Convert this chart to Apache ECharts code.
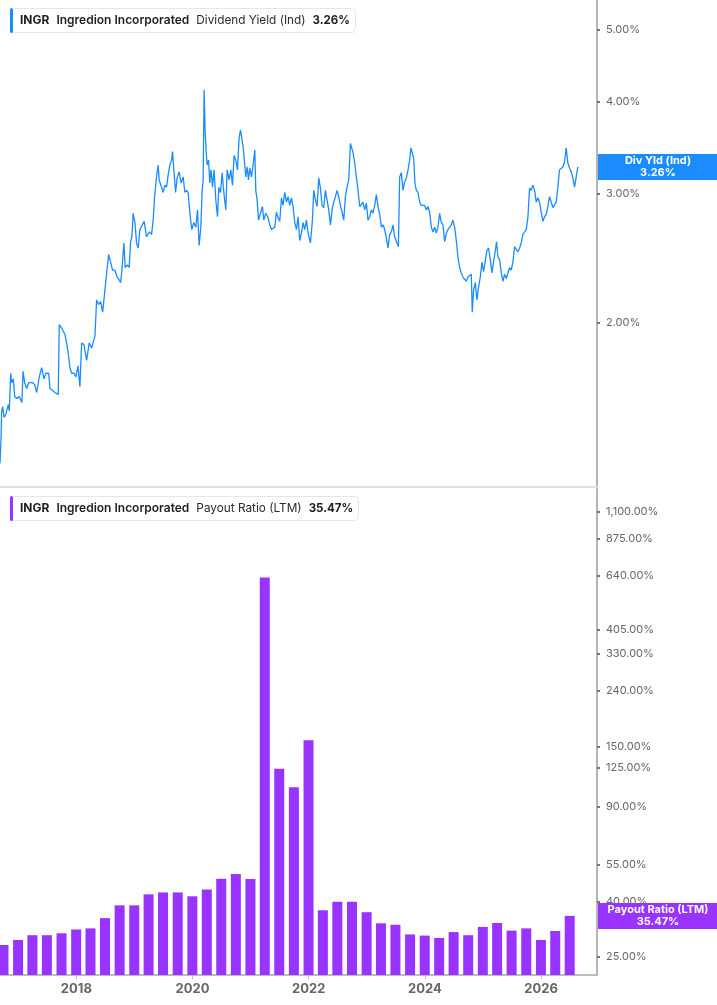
<!DOCTYPE html>
<html>
<head>
<meta charset="UTF-8">
<title>INGR Dividend Yield / Payout Ratio</title>
<script src="https://cdn.jsdelivr.net/npm/echarts@6.0.0/dist/echarts.min.js"></script>
<style>
    html, body { margin: 0; padding: 0; background: #fff; }
    #main { width: 717px; height: 1005px; }
</style>
</head>
<body>
<div id="main"></div>
<script>
// Dividend Yield (Ind), % : [decimal year, value]
var yieldPoints = [
    [2016.686,1.29],[2016.703,1.39],[2016.715,1.52],[2016.732,1.54],[2016.755,1.49],[2016.784,1.50],[2016.801,1.52],[2016.829,1.55],[2016.846,1.52],[2016.870,1.71],[2016.887,1.66],[2016.915,1.68],[2016.939,1.59],[2016.973,1.58],
    [2017.018,1.59],[2017.047,1.57],[2017.064,1.56],[2017.082,1.72],[2017.111,1.66],[2017.145,1.63],[2017.180,1.66],[2017.214,1.65],[2017.248,1.66],[2017.283,1.65],[2017.317,1.61],[2017.362,1.69],[2017.403,1.74],[2017.443,1.68],[2017.477,1.71],[2017.524,1.71],[2017.546,1.63],[2017.592,1.62],[2017.632,1.61],[2017.689,1.60],[2017.706,1.99],[2017.747,1.97],[2017.804,1.93],[2017.833,1.88],[2017.861,1.82],[2017.890,1.74],[2017.919,1.71],[2017.959,1.71],[2017.993,1.69],
    [2018.028,1.75],[2018.062,1.64],[2018.091,1.88],[2018.131,1.87],[2018.177,1.78],[2018.222,1.88],[2018.263,1.85],[2018.291,1.84],[2018.320,1.92],[2018.349,2.15],[2018.384,2.12],[2018.418,2.14],[2018.453,2.07],[2018.480,2.17],[2018.509,2.18],[2018.532,2.38],[2018.556,2.48],[2018.590,2.42],[2018.624,2.36],[2018.664,2.36],[2018.703,2.31],[2018.738,2.29],[2018.762,2.27],[2018.784,2.36],[2018.819,2.57],[2018.841,2.38],[2018.876,2.40],[2018.910,2.38],[2018.934,2.58],[2018.956,2.62],[2018.979,2.82],
    [2019.008,2.74],[2019.037,2.57],[2019.065,2.53],[2019.094,2.68],[2019.128,2.68],[2019.168,2.75],[2019.209,2.62],[2019.254,2.66],[2019.295,2.64],[2019.323,2.76],[2019.347,2.97],[2019.381,3.16],[2019.409,3.28],[2019.426,3.13],[2019.467,3.06],[2019.495,3.01],[2019.524,3.08],[2019.553,3.06],[2019.581,3.18],[2019.610,3.28],[2019.639,3.33],[2019.656,3.42],[2019.679,3.23],[2019.708,3.01],[2019.736,3.15],[2019.770,3.21],[2019.804,3.10],[2019.839,3.16],[2019.868,3.01],[2019.897,3.03],[2019.925,3.01],[2019.954,2.82],[2019.988,2.68],
    [2020.023,2.74],[2020.057,2.70],[2020.086,2.85],[2020.114,2.55],[2020.143,2.70],[2020.166,3.03],[2020.183,3.13],[2020.200,4.15],[2020.217,3.66],[2020.234,3.42],[2020.252,3.28],[2020.276,3.33],[2020.298,3.10],[2020.320,3.23],[2020.344,3.06],[2020.372,3.23],[2020.401,2.94],[2020.430,2.79],[2020.453,3.06],[2020.482,3.01],[2020.510,3.20],[2020.539,3.01],[2020.573,2.85],[2020.596,3.23],[2020.630,3.13],[2020.659,3.23],[2020.688,3.08],[2020.716,3.38],[2020.745,3.33],[2020.774,3.23],[2020.802,3.57],[2020.826,3.66],[2020.848,3.68],[2020.871,3.47],[2020.895,3.31],[2020.917,3.16],[2020.940,3.26],[2020.964,3.13],[2020.986,3.25],
    [2021.015,3.16],[2021.043,3.28],[2021.072,3.44],[2021.089,3.03],[2021.112,2.94],[2021.136,2.76],[2021.170,2.82],[2021.204,2.88],[2021.227,2.76],[2021.261,2.82],[2021.296,2.79],[2021.330,2.72],[2021.359,2.68],[2021.387,2.69],[2021.416,2.70],[2021.445,2.83],[2021.473,2.78],[2021.502,2.75],[2021.531,2.96],[2021.559,2.89],[2021.588,3.01],[2021.617,2.92],[2021.645,2.97],[2021.674,2.89],[2021.703,2.96],[2021.731,2.88],[2021.760,2.74],[2021.789,2.68],[2021.817,2.79],[2021.846,2.59],[2021.875,2.65],[2021.903,2.74],[2021.932,2.68],[2021.961,2.76],[2021.989,2.65],
    [2022.030,2.57],[2022.064,2.76],[2022.087,3.03],[2022.116,2.94],[2022.144,2.88],[2022.173,3.15],[2022.202,3.05],[2022.230,2.89],[2022.259,2.87],[2022.288,3.03],[2022.316,2.94],[2022.345,2.85],[2022.374,2.72],[2022.402,2.85],[2022.431,2.92],[2022.460,2.97],[2022.488,3.03],[2022.517,2.97],[2022.546,2.89],[2022.574,2.83],[2022.603,2.76],[2022.632,2.97],[2022.660,3.06],[2022.689,3.13],[2022.718,3.51],[2022.740,3.51],[2022.763,3.41],[2022.792,3.30],[2022.821,3.16],[2022.849,3.03],[2022.878,2.88],[2022.907,2.89],[2022.935,2.92],[2022.964,2.85],[2022.993,2.91],
    [2023.021,2.76],[2023.050,2.79],[2023.079,2.85],[2023.107,2.82],[2023.136,2.89],[2023.165,2.99],[2023.193,2.88],[2023.222,2.81],[2023.251,2.70],[2023.279,2.72],[2023.308,2.68],[2023.337,2.61],[2023.365,2.53],[2023.394,2.64],[2023.423,2.66],[2023.451,2.72],[2023.480,2.62],[2023.509,2.61],[2023.544,2.54],[2023.566,3.16],[2023.595,3.20],[2023.623,3.03],[2023.652,3.11],[2023.681,3.15],[2023.710,3.23],[2023.738,3.33],[2023.760,3.46],[2023.784,3.47],[2023.807,3.35],[2023.829,3.10],[2023.853,3.03],[2023.881,3.01],[2023.910,2.92],[2023.939,2.89],[2023.967,2.88],[2023.996,2.89],
    [2024.025,2.85],[2024.053,2.88],[2024.082,2.83],[2024.111,2.70],[2024.139,2.66],[2024.168,2.70],[2024.197,2.65],[2024.225,2.70],[2024.254,2.82],[2024.283,2.74],[2024.311,2.72],[2024.340,2.58],[2024.369,2.65],[2024.397,2.68],[2024.426,2.69],[2024.455,2.72],[2024.483,2.76],[2024.512,2.70],[2024.541,2.59],[2024.569,2.46],[2024.598,2.38],[2024.627,2.34],[2024.655,2.31],[2024.684,2.30],[2024.713,2.28],[2024.741,2.31],[2024.770,2.31],[2024.799,2.33],[2024.816,2.07],[2024.839,2.22],[2024.868,2.27],[2024.896,2.15],[2024.925,2.24],[2024.954,2.31],[2024.982,2.42],
    [2025.011,2.35],[2025.040,2.34],[2025.068,2.51],[2025.097,2.53],[2025.126,2.44],[2025.154,2.34],[2025.183,2.42],[2025.205,2.42],[2025.234,2.58],[2025.257,2.46],[2025.286,2.44],[2025.315,2.34],[2025.343,2.28],[2025.372,2.33],[2025.401,2.30],[2025.429,2.31],[2025.458,2.38],[2025.487,2.36],[2025.515,2.42],[2025.544,2.54],[2025.573,2.53],[2025.601,2.50],[2025.630,2.53],[2025.659,2.57],[2025.687,2.64],[2025.716,2.66],[2025.745,2.68],[2025.773,2.78],[2025.802,3.05],[2025.831,3.03],[2025.859,3.08],[2025.888,3.03],[2025.917,2.92],[2025.945,2.96],[2025.974,2.92],
    [2026.003,2.83],[2026.031,2.75],[2026.060,2.79],[2026.089,2.81],[2026.117,2.88],[2026.146,2.97],[2026.175,2.92],[2026.203,2.87],[2026.232,2.88],[2026.261,2.92],[2026.289,3.06],[2026.318,3.23],[2026.347,3.21],[2026.375,3.26],[2026.404,3.31],[2026.433,3.46],[2026.461,3.30],[2026.490,3.25],[2026.519,3.21],[2026.547,3.15],[2026.576,3.06],[2026.605,3.16],[2026.633,3.26]
];

// Payout Ratio (LTM), % per quarter end
var payoutDates = [
    '2016-09-30','2016-12-31',
    '2017-03-31','2017-06-30','2017-09-30','2017-12-31',
    '2018-03-31','2018-06-30','2018-09-30','2018-12-31',
    '2019-03-31','2019-06-30','2019-09-30','2019-12-31',
    '2020-03-31','2020-06-30','2020-09-30','2020-12-31',
    '2021-03-31','2021-06-30','2021-09-30','2021-12-31',
    '2022-03-31','2022-06-30','2022-09-30','2022-12-31',
    '2023-03-31','2023-06-30','2023-09-30','2023-12-31',
    '2024-03-31','2024-06-30','2024-09-30','2024-12-31',
    '2025-03-31','2025-06-30','2025-09-30','2025-12-31',
    '2026-03-31','2026-06-30'
];
var payoutRatio = [
    27.7, 28.9,
    30.1, 30.1, 30.6, 31.6,
    31.9, 34.8, 38.8, 38.8,
    42.6, 43.3, 43.3, 41.9,
    44.4, 48.6, 50.7, 48.5,
    630, 124, 106, 158,
    37.2, 40.0, 40.0, 36.6,
    33.3, 32.9, 30.3, 30.0,
    29.4, 30.9, 30.1, 32.3,
    33.4, 31.3, 31.9, 28.9,
    31.2, 35.47
];

var yieldTicks = [2, 3, 4, 5];
var payoutTicks = [25, 40, 55, 90, 125, 150, 240, 330, 405, 640, 875, 1100];
var yearTicks = [2018, 2020, 2022, 2024, 2026];
var lastYield = 3.26;
var lastPayout = 35.47;

var BLUE = '#1a8cff';
var PURPLE = '#9933ff';
var FONT = 'Inter';

// 'YYYY-MM-DD' -> decimal year
function dateToYear(s) {
    var p = s.split('-');
    var y = +p[0];
    var t = Date.UTC(y, +p[1] - 1, +p[2]);
    var a = Date.UTC(y, 0, 1), b = Date.UTC(y + 1, 0, 1);
    return y + (t - a) / (b - a);
}
function pct(v) {
    return v.toLocaleString('en-US', {minimumFractionDigits: 2, maximumFractionDigits: 2}) + '%';
}

var xMin = 2016.686;
var xMax = 2026.963;

function legendTitle(top, color, metric, value) {
    return {
        left: 10, top: top,
        backgroundColor: '#fff',
        borderColor: '#e6e6e6', borderWidth: 1, borderRadius: 4,
        padding: [0, 6, 0, 0],
        text: '{bar|}{s7|}{b|INGR}{s9|}{m|Ingredion Incorporated}{s9|}{r|' + metric + '}{s9|}{v|' + value + '}',
        textStyle: {
            rich: {
                bar: {width: 3, height: 25, backgroundColor: color, borderRadius: 2},
                s7: {width: 7},
                s9: {width: 7},
                b: {fontFamily: FONT, fontSize: 12, fontWeight: 'bold', color: '#1f1f1f'},
                m: {fontFamily: FONT, fontSize: 12, fontWeight: 600, color: '#1f1f1f'},
                r: {fontFamily: FONT, fontSize: 11.8, fontWeight: 'normal', color: '#2a2a2a'},
                v: {fontFamily: FONT, fontSize: 11.5, fontWeight: 'bold', color: '#1f1f1f'}
            }
        }
    };
}

function valueBox(label, value, color) {
    return {
        symbol: 'none',
        silent: true,
        lineStyle: {color: 'rgba(0,0,0,0)', width: 0, type: 'solid'},
        label: {
            show: true,
            position: 'end',
            distance: 1,
            opacity: 1,
            formatter: '{a|' + label + '}\n{a|' + pct(value) + '}',
            backgroundColor: color,
            padding: [1, 0, 1, 0],
            rich: {
                a: {width: 120, align: 'center', color: '#fff', fontFamily: FONT,
                    fontSize: 11, fontWeight: 'bold', lineHeight: 12}
            }
        },
        data: [{yAxis: value}]
    };
}

var yLabelStyle = {color: '#666', fontFamily: FONT, fontSize: 11, margin: 9};

var chart = echarts.init(document.getElementById('main'));
chart.setOption({
    animation: false,
    backgroundColor: '#fff',
    title: [
        legendTitle(8, BLUE, 'Dividend Yield (Ind)', pct(lastYield)),
        legendTitle(496, PURPLE, 'Payout Ratio (LTM)', pct(lastPayout))
    ],
    grid: [
        {left: 0, right: 120, top: 0, height: 487},
        {left: 0, right: 120, top: 489, bottom: 30}
    ],
    xAxis: [
        {
            type: 'value', gridIndex: 0, min: xMin, max: xMax,
            axisLine: {show: true, onZero: false, lineStyle: {color: '#e0e0e0', width: 2}},
            axisTick: {show: false}, axisLabel: {show: false}, splitLine: {show: false}
        },
        {
            type: 'value', gridIndex: 1, min: xMin, max: xMax,
            axisLine: {show: true, onZero: false, lineStyle: {color: '#bdbdbd', width: 2}},
            axisTick: {show: true, customValues: yearTicks, length: 4, lineStyle: {color: '#bdbdbd'}},
            axisLabel: {
                customValues: yearTicks,
                formatter: function (v) { return String(Math.round(v)); },
                color: '#666', fontFamily: FONT, fontSize: 13, fontWeight: 'bold', margin: 8
            },
            splitLine: {show: false}
        }
    ],
    yAxis: [
        {
            type: 'log', gridIndex: 0, position: 'right', min: 1.198, max: 5.495,
            axisLine: {show: true, lineStyle: {color: '#b5b5b5', width: 2}},
            axisTick: {show: true, customValues: yieldTicks, length: 3, lineStyle: {color: '#777', width: 2}},
            axisLabel: Object.assign({customValues: yieldTicks, formatter: function (v) { return pct(v); }}, yLabelStyle),
            splitLine: {show: false}
        },
        {
            type: 'log', gridIndex: 1, position: 'right', min: 21.46, max: 1337,
            axisLine: {show: true, lineStyle: {color: '#b5b5b5', width: 2}},
            axisTick: {show: true, customValues: payoutTicks, length: 3, lineStyle: {color: '#777', width: 2}},
            axisLabel: Object.assign({customValues: payoutTicks, formatter: function (v) { return pct(v); }}, yLabelStyle),
            splitLine: {show: false}
        }
    ],
    series: [
        {
            name: 'Dividend Yield (Ind)',
            type: 'line',
            xAxisIndex: 0, yAxisIndex: 0,
            clip: false,
            showSymbol: false,
            lineStyle: {color: BLUE, width: 1.3},
            data: yieldPoints,
            markLine: valueBox('Div Yld (Ind)', lastYield, BLUE)
        },
        {
            name: 'Payout Ratio (LTM)',
            type: 'bar',
            xAxisIndex: 1, yAxisIndex: 1,
            clip: true,
            barWidth: 10,
            itemStyle: {color: PURPLE},
            data: payoutDates.map(function (d, i) { return [dateToYear(d), payoutRatio[i]]; }),
            markLine: valueBox('Payout Ratio (LTM)', lastPayout, PURPLE)
        }
    ]
});
</script>
</body>
</html>
